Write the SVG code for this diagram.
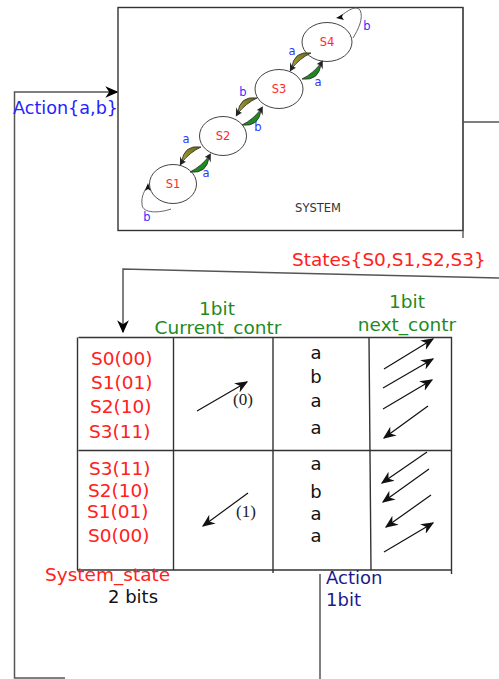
<svg xmlns="http://www.w3.org/2000/svg" width="499" height="679" viewBox="0 0 499 679">
  <style>
    text { font-family: "DejaVu Sans", Verdana, sans-serif; }
    .wire { fill: none; stroke: #555; stroke-width: 1.5; }
    .grid { fill: none; stroke: #333; stroke-width: 1.4; }
    .st { fill: #fff; stroke: #444; stroke-width: 1; }
    .sl { fill: #ff2a2a; font-size: 11.5px; text-anchor: middle; }
    .ev { fill: #3333ff; font-size: 11.5px; text-anchor: middle; }
    .red { fill: #ff2020; font-size: 18.5px; }
    .grn { fill: #1f8a1f; font-size: 18.5px; text-anchor: middle; }
    .act { fill: #111; font-size: 18px; text-anchor: middle; }
    .ptr { stroke: #111; stroke-width: 1.2; fill: none; marker-end: url(#tip); }
    .bit { font-family: "Liberation Serif", "Times New Roman", serif; font-size: 17px; fill: #222; }
  </style>
  <defs>
    <marker id="tip" viewBox="0 0 10 10" refX="9" refY="5" markerWidth="13" markerHeight="13" markerUnits="userSpaceOnUse" orient="auto">
      <path d="M0,0.8 L10,5 L0,9.2 L3,5 Z" fill="#111"/>
    </marker>
    <marker id="bigtip" viewBox="0 0 10 10" refX="9" refY="5" markerWidth="13" markerHeight="13" markerUnits="userSpaceOnUse" orient="auto">
      <path d="M0,0.5 L10,5 L0,9.5 L3,5 Z" fill="#000"/>
    </marker>
    <!-- crescent transition arrow, drawn along +x, bulging toward +y -->
    <g id="cres">
      <path d="M0,0 Q12,13 25,0 Q12,3 0,0 Z" stroke="#333" stroke-width="0.8"/>
      <path d="M28,-1 L21,-2 L23,1.5 L22,6 Z" fill="#222"/>
    </g>
    <linearGradient id="olv" x1="0" y1="0" x2="1" y2="0">
      <stop offset="0" stop-color="#66660e"/>
      <stop offset="1" stop-color="#aaa440"/>
    </linearGradient>
  </defs>

  <!-- connectors -->
  <g id="connectors">
    <!-- action input into the system -->
    <polyline class="wire" points="65,678 14.5,678 14.5,92 117,92" marker-end="url(#bigtip)"/>
    <!-- system output to the table -->
    <line class="wire" x1="463" y1="122" x2="499" y2="122"/>
    <polyline class="wire" points="499,278 123,269 123,332" stroke="#111" marker-end="url(#bigtip)"/>
    <!-- action feed from the table -->
    <line class="wire" x1="320" y1="574" x2="320" y2="679"/>
  </g>

  <text x="13" y="114" font-size="17.6" fill="#2323ff">Action{a,b}</text>
  <text x="292" y="266" class="red">States{S0,S1,S2,S3}</text>

  <!-- system block with its state machine -->
  <g id="system">
    <rect x="118" y="7.5" width="345" height="223" fill="#fff" stroke="#333" stroke-width="1.4"/>
    <line x1="463" y1="7.5" x2="463" y2="238" stroke="#555" stroke-width="1.4"/>
    <text x="318" y="212" font-size="11.5" fill="#333" text-anchor="middle">SYSTEM</text>

    <!-- self loops -->
    <path d="M171,209 C160,213 142,214 142,204 C141,196 145,190 148,185" fill="none" stroke="#555" stroke-width="0.9"/>
    <path d="M148,183 L145,191 L148,189 L151,191 Z" fill="#111"/>
    <text x="147" y="221" class="ev">b</text>
    <path d="M353,38 C358,30 364,18 360,10 C355,4 345,13 338,18" fill="none" stroke="#555" stroke-width="0.9"/>
    <path d="M336,18 L343,14 L342,17 L344,20 Z" fill="#111"/>
    <text x="367" y="30" class="ev">b</text>

    <g id="s1"><ellipse class="st" cx="173" cy="184" rx="23.5" ry="19.5"/><text x="173" y="188" class="sl">S1</text></g>
    <g id="s2"><ellipse class="st" cx="223" cy="136" rx="23.5" ry="19.5"/><text x="223" y="140" class="sl">S2</text></g>
    <g id="s3"><ellipse class="st" cx="279" cy="89" rx="24" ry="19.5"/><text x="279" y="93" class="sl">S3</text></g>
    <g id="s4"><ellipse class="st" cx="327" cy="42" rx="25" ry="19.5"/><text x="327" y="46" class="sl">S4</text></g>

    <!-- downward transitions -->
    <use href="#cres" fill="url(#olv)" transform="translate(201,147) rotate(141)"/>
    <use href="#cres" fill="url(#olv)" transform="translate(257,98) rotate(141)"/>
    <use href="#cres" fill="url(#olv)" transform="translate(311,53) rotate(141)"/>
    <!-- upward transitions -->
    <use href="#cres" fill="#1d8a1d" transform="translate(190,172) rotate(-40)"/>
    <use href="#cres" fill="#1d8a1d" transform="translate(242,125) rotate(-40)"/>
    <use href="#cres" fill="#1d8a1d" transform="translate(302,79) rotate(-40)"/>

    <text x="186" y="143" class="ev">a</text>
    <text x="206" y="177" class="ev">a</text>
    <text x="243" y="96" class="ev">b</text>
    <text x="258" y="131" class="ev">b</text>
    <text x="292" y="55" class="ev">a</text>
    <text x="318" y="86" class="ev">a</text>
  </g>

  <!-- transition table -->
  <g id="table">
    <text x="217" y="315" class="grn">1bit</text>
    <text x="218" y="334" class="grn">Current_contr</text>
    <text x="407" y="308" class="grn">1bit</text>
    <text x="407" y="331" class="grn">next_contr</text>

    <path class="grid" d="M78.5,337.5 H451.5 V574 M77.5,337.5 V570 H451.5 M173.5,337.5 V570 M273,337.5 V573 M369,337.5 L371,570 M78.5,450.5 H451.5"/>

    <text x="91" y="365" class="red">S0(00)</text>
    <text x="91" y="389" class="red">S1(01)</text>
    <text x="90" y="413" class="red">S2(10)</text>
    <text x="89" y="438" class="red">S3(11)</text>
    <text x="89" y="475" class="red">S3(11)</text>
    <text x="88" y="497" class="red">S2(10)</text>
    <text x="87" y="518" class="red">S1(01)</text>
    <text x="88" y="542" class="red">S0(00)</text>

    <line class="ptr" x1="197" y1="411" x2="247" y2="382"/>
    <text x="233" y="405" class="bit">(0)</text>
    <line class="ptr" x1="248" y1="493" x2="203" y2="526"/>
    <text x="236" y="517" class="bit">(1)</text>

    <text x="316" y="359" class="act">a</text>
    <text x="316" y="383" class="act">b</text>
    <text x="316" y="407" class="act">a</text>
    <text x="316" y="434" class="act">a</text>
    <text x="316" y="470" class="act">a</text>
    <text x="316" y="498" class="act">b</text>
    <text x="316" y="520" class="act">a</text>
    <text x="316" y="542" class="act">a</text>

    <line class="ptr" x1="384" y1="369" x2="433" y2="339"/>
    <line class="ptr" x1="383" y1="388" x2="433" y2="359"/>
    <line class="ptr" x1="383" y1="409" x2="432" y2="380"/>
    <line class="ptr" x1="428" y1="406" x2="384" y2="438"/>
    <line class="ptr" x1="427" y1="452" x2="382" y2="483"/>
    <line class="ptr" x1="429" y1="469" x2="383" y2="502"/>
    <line class="ptr" x1="431" y1="495" x2="386" y2="527"/>
    <line class="ptr" x1="384" y1="552" x2="433" y2="523"/>

    <text x="45" y="581" class="red">System_state</text>
    <text x="108" y="603" font-size="18" fill="#111">2 bits</text>
    <text x="326" y="584" font-size="18" fill="#1a1a8c">Action</text>
    <text x="326" y="606" font-size="18" fill="#1a1a8c">1bit</text>
  </g>
</svg>
